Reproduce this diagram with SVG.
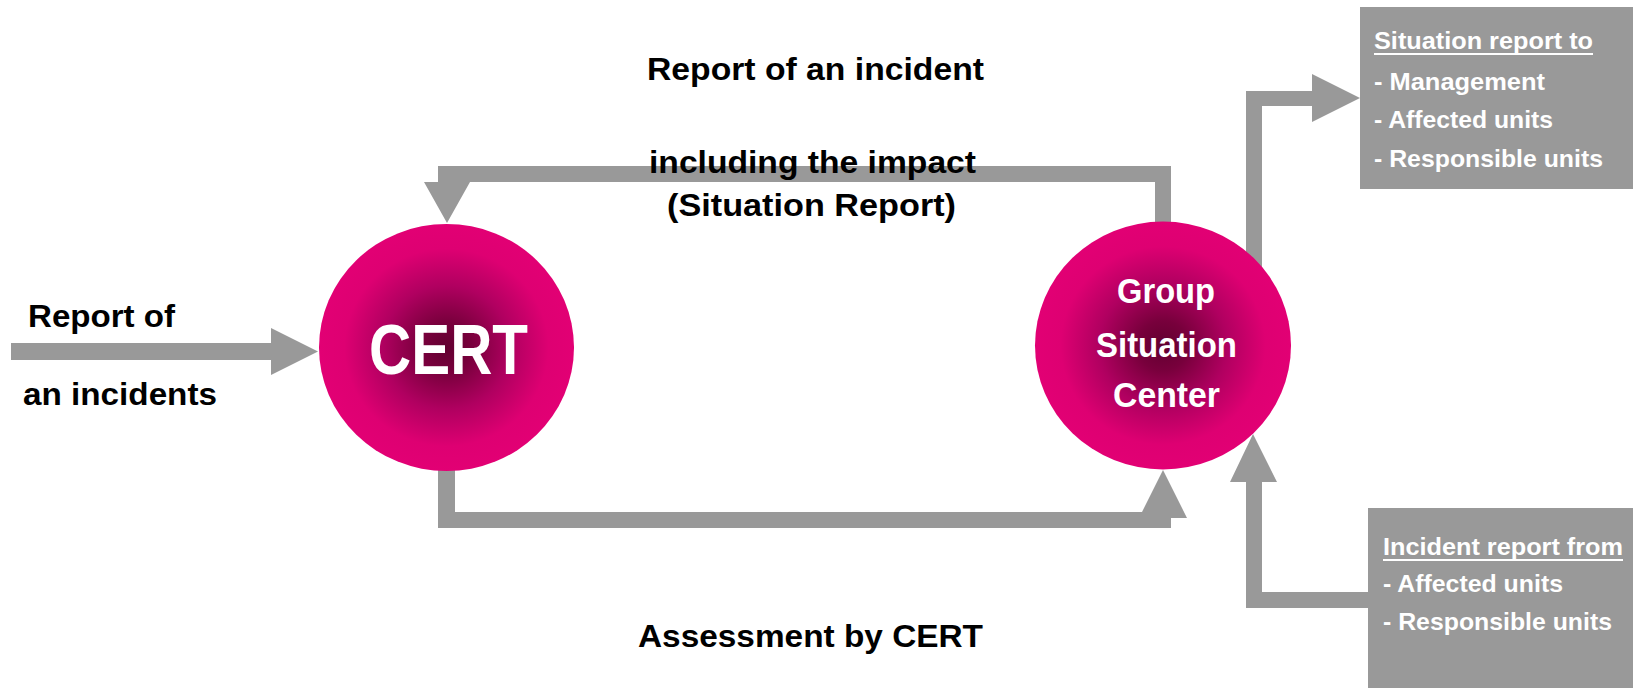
<svg xmlns="http://www.w3.org/2000/svg" width="1633" height="688" viewBox="0 0 1633 688">
<defs>
<radialGradient id="mag" cx="0.5" cy="0.5" r="0.5">
<stop offset="0" stop-color="#620030"/>
<stop offset="0.2" stop-color="#78003c"/>
<stop offset="0.5" stop-color="#b00060"/>
<stop offset="0.8" stop-color="#de0072"/>
<stop offset="1" stop-color="#e20074"/>
</radialGradient>
<style>
.bar{fill:#999999;stroke:none}
.box{fill:#999999}
.lbl{font-family:"Liberation Sans",Arial,sans-serif;font-weight:bold;fill:#000}
.wt{font-family:"Liberation Sans",Arial,sans-serif;font-weight:bold;fill:#ffffff}
.ul{stroke:#ffffff;stroke-width:2}
</style>
</defs>
<rect width="1633" height="688" fill="#ffffff"/>
<g id="connectors">
<path class="bar" d="M11,343 H271 V328 L318,351.5 L271,375 V360 H11 Z"/>
<path class="bar" d="M1171,230 V166 H438 V182 H424 L447,223 L470,182 H1155 V230 Z"/>
<path class="bar" d="M438,462 V528 H1171 V518 H1187 L1163,470 L1142,512 H455 V462 Z"/>
<path class="bar" d="M1246,270 V91 H1312 V74 L1360,98 L1312,122 V106 H1262 V270 Z"/>
<path class="bar" d="M1368,592 H1262 V482 H1277 L1253,434 L1230,482 H1246 V608 H1368 Z"/>
</g>
<g id="cert">
<ellipse cx="446.5" cy="347.5" rx="127.5" ry="123.5" fill="url(#mag)"/>
<text class="wt" x="369" y="374" font-size="70" textLength="159" lengthAdjust="spacingAndGlyphs">CERT</text>
</g>
<g id="gsc">
<ellipse cx="1163" cy="345.5" rx="128" ry="124" fill="url(#mag)"/>
<text class="wt" x="1117" y="303" font-size="35" textLength="98" lengthAdjust="spacingAndGlyphs">Group</text>
<text class="wt" x="1096" y="357" font-size="35" textLength="141" lengthAdjust="spacingAndGlyphs">Situation</text>
<text class="wt" x="1113" y="407" font-size="35" textLength="107" lengthAdjust="spacingAndGlyphs">Center</text>
</g>
<g id="box-situation-report">
<rect class="box" x="1360" y="7" width="273" height="182"/>
<text class="wt" x="1374" y="49" font-size="24" textLength="219" lengthAdjust="spacingAndGlyphs">Situation report to</text>
<line class="ul" x1="1374" y1="54" x2="1593" y2="54"/>
<text class="wt" x="1374" y="90" font-size="24" textLength="171" lengthAdjust="spacingAndGlyphs">- Management</text>
<text class="wt" x="1374" y="128" font-size="24" textLength="179" lengthAdjust="spacingAndGlyphs">- Affected units</text>
<text class="wt" x="1374" y="167" font-size="24" textLength="229" lengthAdjust="spacingAndGlyphs">- Responsible units</text>
</g>
<g id="box-incident-report">
<rect class="box" x="1368" y="508" width="265" height="180"/>
<text class="wt" x="1383" y="555" font-size="24" textLength="240" lengthAdjust="spacingAndGlyphs">Incident report from</text>
<line class="ul" x1="1383" y1="560" x2="1623" y2="560"/>
<text class="wt" x="1383" y="592" font-size="24" textLength="180" lengthAdjust="spacingAndGlyphs">- Affected units</text>
<text class="wt" x="1383" y="630" font-size="24" textLength="229" lengthAdjust="spacingAndGlyphs">- Responsible units</text>
</g>
<g id="labels">
<text class="lbl" x="28" y="327" font-size="31" textLength="147" lengthAdjust="spacingAndGlyphs">Report of</text>
<text class="lbl" x="23" y="405" font-size="31" textLength="194" lengthAdjust="spacingAndGlyphs">an incidents</text>
<text class="lbl" x="647" y="80" font-size="32" textLength="337" lengthAdjust="spacingAndGlyphs">Report of an incident</text>
<text class="lbl" x="649" y="173" font-size="32" textLength="327" lengthAdjust="spacingAndGlyphs">including the impact</text>
<text class="lbl" x="667" y="216" font-size="32" textLength="289" lengthAdjust="spacingAndGlyphs">(Situation Report)</text>
<text class="lbl" x="638" y="647" font-size="32" textLength="345" lengthAdjust="spacingAndGlyphs">Assessment by CERT</text>
</g>
</svg>
